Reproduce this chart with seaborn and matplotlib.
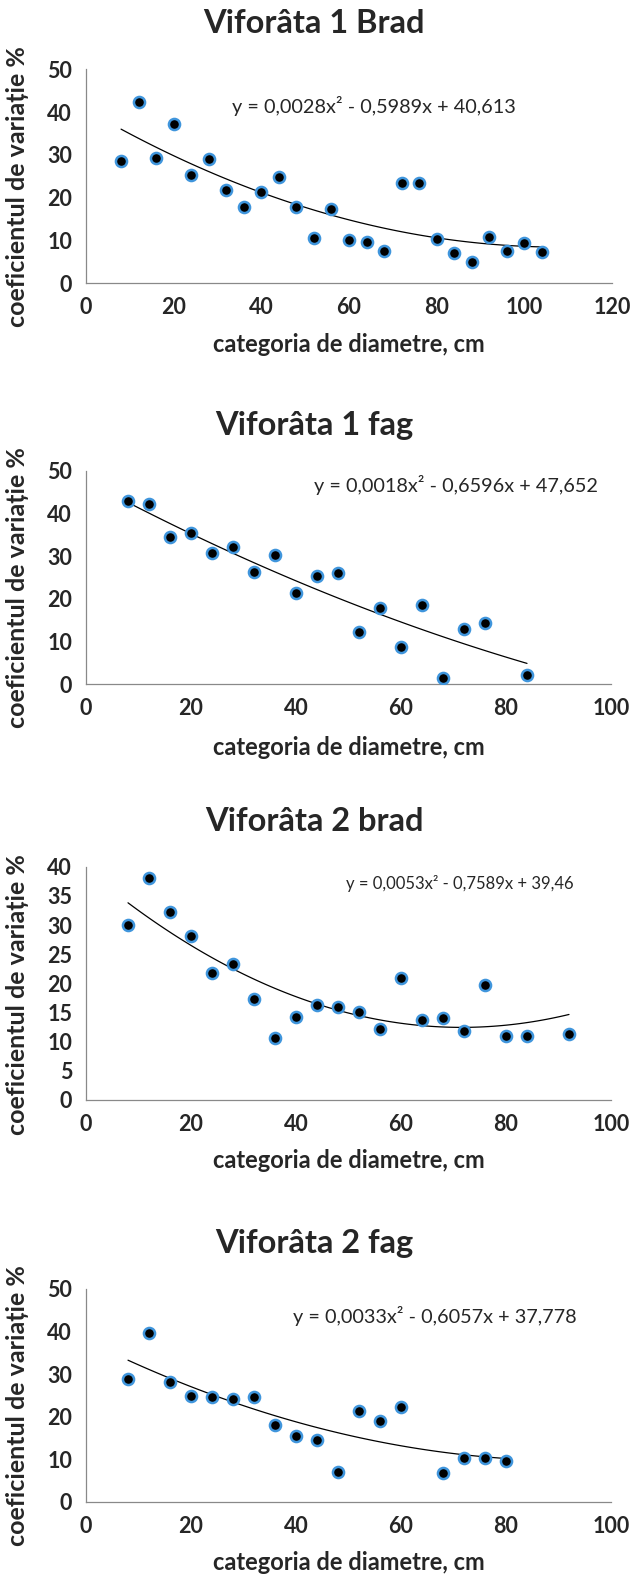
import matplotlib
matplotlib.use("Agg")
import matplotlib.pyplot as plt
import seaborn as sns
import numpy as np
import pandas as pd

sns.set_style("white")
plt.rcParams['font.family'] = ['Lato', 'DejaVu Sans']

titles = ["Viforâta 1 Brad", "Viforâta 1 fag", "Viforâta 2 brad", "Viforâta 2 fag"]
equations = ["y = 0,0028x² - 0,5989x + 40,613",
             "y = 0,0018x² - 0,6596x + 47,652",
             "y = 0,0053x² - 0,7589x + 39,46",
             "y = 0,0033x² - 0,6057x + 37,778"]

x1 = [8, 12, 16, 20, 24, 28, 32, 36, 40, 44, 48, 52, 56, 60, 64, 68, 72, 76, 80, 84, 88, 92, 96, 100, 104]
y1 = [28.6, 42.3, 29.2, 37.3, 25.3, 29.0, 21.8, 17.8, 21.2, 24.9, 17.8, 10.5, 17.2, 10.1, 9.7, 7.6,
      23.4, 23.4, 10.4, 7.0, 4.9, 10.7, 7.6, 9.3, 7.2]

x2 = [8, 12, 16, 20, 24, 28, 32, 36, 40, 44, 48, 52, 56, 60, 64, 68, 72, 76, 84]
y2 = [43.0, 42.3, 34.5, 35.5, 30.6, 32.0, 26.3, 30.3, 21.3, 25.3, 26.1, 12.2, 17.8, 8.7, 18.6, 1.4,
      13.0, 14.3, 2.0]

x3 = [8, 12, 16, 20, 24, 28, 32, 36, 40, 44, 48, 52, 56, 60, 64, 68, 72, 76, 80, 84, 92]
y3 = [30.0, 38.1, 32.3, 28.2, 21.7, 23.4, 17.4, 10.6, 14.2, 16.3, 16.0, 15.1, 12.1, 20.9, 13.8, 14.1,
      11.9, 19.8, 10.9, 10.9, 11.3]

x4 = [8, 12, 16, 20, 24, 28, 32, 36, 40, 44, 48, 52, 56, 60, 68, 72, 76, 80]
y4 = [28.8, 39.7, 28.1, 24.8, 24.7, 24.1, 24.7, 18.0, 15.5, 14.5, 7.0, 21.3, 19.1, 22.2, 6.7, 10.2,
      10.2, 9.7]

xs = [x1, x2, x3, x4]
ys = [y1, y2, y3, y4]
xmax = [120, 100, 100, 100]
ymax = [50, 50, 40, 50]
ystep = [10, 10, 5, 10]

H = 1577.0
W = 640.0
# axes boxes in pixels: (left, top, right, bottom)
boxes = [(86.0, 69.3, 612.0, 283.0),
         (86.0, 470.7, 611.0, 684.0),
         (86.0, 866.7, 611.0, 1100.0),
         (86.0, 1288.7, 611.0, 1502.0)]
title_base = [33, 435, 831, 1253]
eq_pos = [(0.278, 0.827, 14.3), (0.434, 0.933, 14.3), (0.496, 0.926, 12), (0.395, 0.872, 14.3)]
xlab_off = [62, 63, 60, 61]

fig = plt.figure(figsize=(6.4, 15.77), dpi=100)
spine_c = '#898989'

for i in range(4):
    l, t, r, b = boxes[i]
    hpx = b - t
    ax = fig.add_axes([l / W, 1 - b / H, (r - l) / W, hpx / H])
    df = pd.DataFrame({"x": xs[i], "y": ys[i]})
    sns.regplot(data=df, x="x", y="y", order=2, ci=None, scatter=False, truncate=True,
                line_kws=dict(color='black', lw=0.9), ax=ax)
    sns.scatterplot(data=df, x="x", y="y", ax=ax, color='black', edgecolor='#3f95dc',
                    s=64, linewidth=1.8, zorder=3)
    ax.set_xlim(0, xmax[i])
    ax.set_ylim(0, ymax[i])
    ax.set_xticks(np.arange(0, xmax[i] + 1, 20))
    ax.set_yticks(np.arange(0, ymax[i] + 1, ystep[i]))
    for s in ['top', 'right']:
        ax.spines[s].set_visible(False)
    for s in ['left', 'bottom']:
        ax.spines[s].set_color(spine_c)
        ax.spines[s].set_linewidth(0.9)
    ax.tick_params(axis='both', which='major', direction='out', length=5, width=0.9,
                   color=spine_c, labelsize=15.5, pad=5)
    for lab in ax.get_xticklabels() + ax.get_yticklabels():
        lab.set_fontweight('bold')
    ax.set_xlabel("categoria de diametre, cm", fontsize=17, fontweight='bold', va='center')
    ax.set_ylabel("coeficientul de variație %", fontsize=18, fontweight='bold', va='center')
    ax.xaxis.set_label_coords(0.5, -xlab_off[i] / hpx)
    ax.yaxis.set_label_coords(-68 / (r - l), 0.45)
    ex, ey, fs = eq_pos[i]
    ax.text(ex, ey, equations[i], transform=ax.transAxes, fontsize=fs, va='center', ha='left')
    fig.text(314 / W, 1 - title_base[i] / H, titles[i], ha='center', va='baseline',
             fontsize=23.5, fontweight='bold')

fig.savefig("out.png", dpi=100)
